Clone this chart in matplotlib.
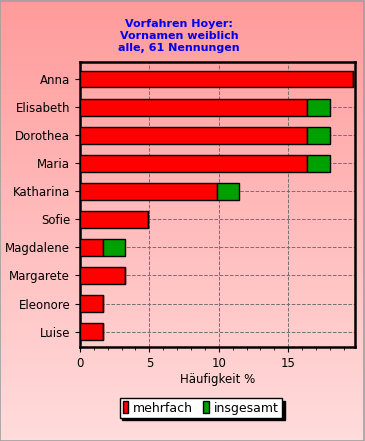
import matplotlib
matplotlib.use("Agg")
import matplotlib.pyplot as plt
import numpy as np
from matplotlib.patches import Rectangle

# Vornamen und Häufigkeiten (61 Nennungen)
names = ['Anna', 'Elisabeth', 'Dorothea', 'Maria', 'Katharina', 'Sofie',
         'Magdalene', 'Margarete', 'Eleonore', 'Luise']
mehrfach = [19.67, 16.39, 16.39, 16.39, 9.84, 4.92, 1.64, 3.28, 1.64, 1.64]
insgesamt = [19.67, 18.03, 18.03, 18.03, 11.48, 4.92, 3.28, 3.28, 1.64, 1.64]

fig = plt.figure(figsize=(3.65, 4.41), dpi=100)

# background gradient over the whole figure
bg = fig.add_axes([0, 0, 1, 1], zorder=-10)
grad = np.linspace(0, 1, 256).reshape(-1, 1)
top = np.array([255, 155, 155]) / 255
bot = np.array([255, 220, 220]) / 255
img = top + (bot - top) * grad[..., None]
img = np.repeat(img, 2, axis=1)
bg.imshow(img, aspect='auto', extent=[0, 1, 0, 1])
bg.set_xlim(0, 1)
bg.set_ylim(0, 1)
bg.axis('off')
bg.add_patch(Rectangle((0.001, 0.001), 0.997, 0.997, fill=False,
                       edgecolor='#a0a0a0', linewidth=1.2))

ax = fig.add_axes([0.219, 0.213, 0.753, 0.646])
ax.patch.set_alpha(0)

y = np.arange(len(names))
extra = [t - m for t, m in zip(insgesamt, mehrfach)]
ax.barh(y, mehrfach, height=0.6, color='#ff0000', edgecolor='black',
        linewidth=1, zorder=3, label='mehrfach')
ax.barh(y, extra, left=mehrfach, height=0.6, color='#00a000',
        edgecolor='black', linewidth=1, zorder=3, label='insgesamt')

ax.set_xlim(0, 19.8)
ax.set_ylim(len(names) - 0.45, -0.6)
ax.set_yticks(y)
ax.set_yticklabels(names, fontsize=8.5)
ax.set_xticks([0, 5, 10, 15])
ax.set_xticks(np.arange(0, 20, 1), minor=True)
ax.tick_params(axis='x', labelsize=8.5)
ax.tick_params(axis='x', which='minor', length=2)
ax.set_xlabel('Häufigkeit %', fontsize=8.5, labelpad=2)
ax.grid(True, which='major', linestyle='--', color='#707070', linewidth=0.7, zorder=0)
for s in ax.spines.values():
    s.set_linewidth(1.8)

fig.text(0.49, 0.958, 'Vorfahren Hoyer:\nVornamen weiblich\nalle, 61 Nennungen',
         ha='center', va='top', color='#0000ee', fontsize=8,
         fontweight='bold', linespacing=1.3)

leg = fig.legend(loc='center', bbox_to_anchor=(0.55, 0.075), ncol=2,
                 fontsize=9, frameon=True, fancybox=False,
                 shadow={'color': 'black', 'alpha': 1},
                 edgecolor='black', handlelength=0.45, handleheight=1.1,
                 handletextpad=0.4, columnspacing=0.8, borderpad=0.25,
                 borderaxespad=0)
leg.get_frame().set_facecolor('white')
leg.get_frame().set_alpha(1)

fig.savefig('out.png', dpi=100)
